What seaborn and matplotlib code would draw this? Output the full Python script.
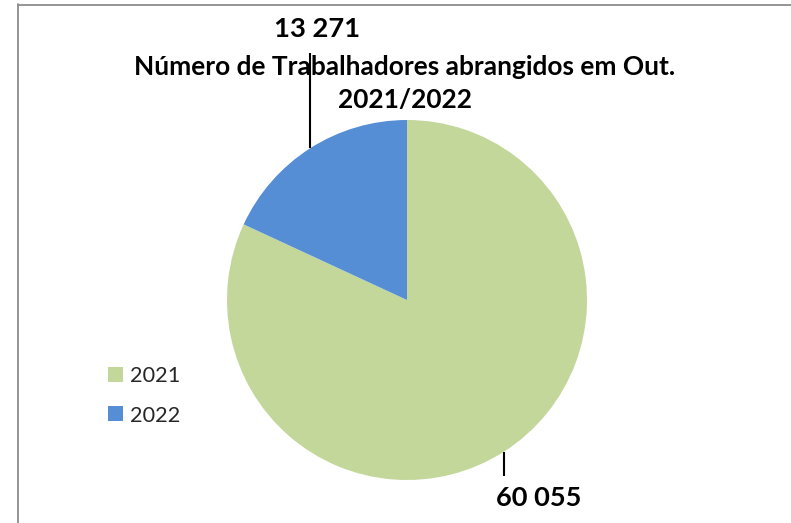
import matplotlib
matplotlib.use("Agg")
import matplotlib.pyplot as plt
import seaborn as sns
from matplotlib.lines import Line2D
import numpy as np

# ---- data ----
years = ["2021", "2022"]
workers = [60055, 13271]
value_labels = ["60 055", "13 271"]
title_text = "Número de Trabalhadores abrangidos em Out.\n2021/2022"
colors = ["#C4D79B", "#558ED5"]

sns.set_theme(style="white")
plt.rcParams['font.family'] = ['Lato', 'DejaVu Sans']

W, H = 791, 523
fig = plt.figure(figsize=(W / 100, H / 100), dpi=100)
fig.patch.set_facecolor("white")

# pie axes (center 407,300 px from top, radius 180 px)
cx, cy, R = 407, 300, 180
ax = fig.add_axes([(cx - R) / W, (H - cy - R) / H, 2 * R / W, 2 * R / H])
wedges, _ = ax.pie(workers, colors=colors, startangle=90, counterclock=False,
                   wedgeprops=dict(linewidth=0, edgecolor="none"))
ax.set_xlim(-1, 1)
ax.set_ylim(-1, 1)
ax.set_aspect("equal")
ax.axis("off")

def px_to_data_y(py):
    return (cy - py) / R

def px_to_data_x(px):
    return (px - cx) / R

renderer = fig.canvas.get_renderer()

def fit(t, target_w):
    w = t.get_window_extent(renderer).width
    t.set_fontsize(t.get_fontsize() * target_w / w)

# label layout: (line end y px, text center x px, text center y px)
layout = [(476, 539, 498), (53, 317, 29)]
for w, lab, (ly, tx, ty) in zip(wedges, value_labels, layout):
    th = np.deg2rad((w.theta1 + w.theta2) / 2)
    x0, y0 = np.cos(th), np.sin(th)
    ax.plot([x0, x0], [y0, px_to_data_y(ly)], color="black", lw=1.5, clip_on=False,
            solid_capstyle="butt")
    t = ax.text(px_to_data_x(tx), px_to_data_y(ty), lab, ha="center", va="center",
                fontsize=18, fontweight="bold", color="black", clip_on=False)
    fit(t, 86)

# title
title = fig.text(405 / W, 1 - 83.5 / H, title_text, ha="center", va="center",
                 fontsize=17, fontweight="bold", color="black", linespacing=1.45)
fit(title, 540)

# legend font size fitted to the label width
probe = fig.text(0, 0, years[0], fontsize=16)
fit(probe, 50)
fs = probe.get_fontsize()
probe.remove()

ls = 0.6
for _ in range(4):
    leg = fig.legend(wedges, years, loc="center left",
                     bbox_to_anchor=(108 / W, 1 - 396 / H), frameon=False,
                     fontsize=fs, handlelength=10.8 / fs, handleheight=10.8 / fs,
                     handletextpad=5.0 / fs, labelspacing=ls, borderpad=0,
                     borderaxespad=0)
    fig.canvas.draw()
    ys = [t.get_window_extent(renderer).y0 for t in leg.get_texts()]
    d = abs(ys[0] - ys[1])
    ls += (39 - d) / (fs * 100 / 72)
    leg.remove()
leg = fig.legend(wedges, years, loc="center left",
                 bbox_to_anchor=(108 / W, 1 - 396 / H), frameon=False,
                 fontsize=fs, handlelength=10.8 / fs, handleheight=10.8 / fs,
                 handletextpad=5.0 / fs, labelspacing=ls, borderpad=0,
                 borderaxespad=0)

# chart border (gray frame on left and top)
fig.add_artist(Line2D([17.5 / W, 17.5 / W], [0, 1 - 4 / H], transform=fig.transFigure,
                      color="#8C8C8C", lw=1.3))
fig.add_artist(Line2D([17.5 / W, 1], [1 - 4.5 / H, 1 - 4.5 / H], transform=fig.transFigure,
                      color="#8C8C8C", lw=1.3))

fig.savefig("out.png", dpi=100, facecolor="white")
